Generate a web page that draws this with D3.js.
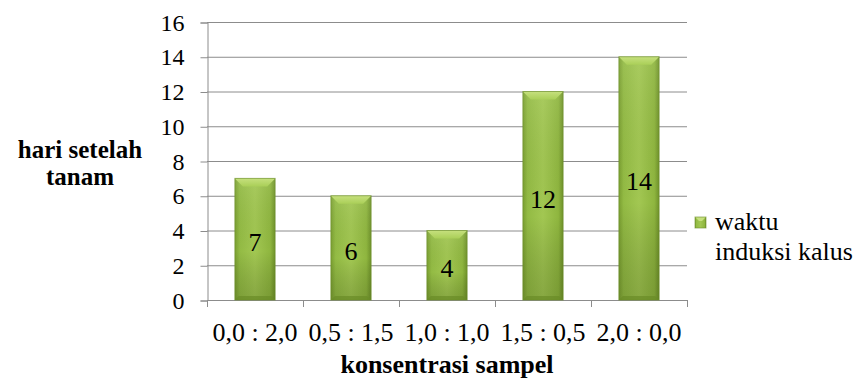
<!DOCTYPE html>
<html>
<head>
<meta charset="utf-8">
<script src="https://cdn.jsdelivr.net/npm/d3@7/dist/d3.min.js"></script>
<style>
  html, body { margin: 0; padding: 0; background: #fff; }
  svg { display: block; }
</style>
</head>
<body>
<svg id="chart" width="860" height="386"></svg>
<script>
// Callus induction time per concentration ratio
const categories = ["0,0 : 2,0", "0,5 : 1,5", "1,0 : 1,0", "1,5 : 0,5", "2,0 : 0,0"];
const values = [7, 6, 4, 12, 14];
const yTicks = [0, 2, 4, 6, 8, 10, 12, 14, 16];
const seriesName = ["waktu", "induksi kalus"];
const yTitle = ["hari setelah", "tanam"];
const xTitle = "konsentrasi sampel";

const FONT = "Liberation Serif";
const svg = d3.select("#chart");
const plot = { left: 207, right: 687, top: 22, bottom: 300 };

const y = d3.scaleLinear().domain([0, 16]).range([plot.bottom, plot.top]);
const x = d3.scaleBand().domain(categories).range([plot.left, plot.right])
  .paddingInner(0.58).paddingOuter(0.29);

const defs = svg.append("defs");
const body = defs.append("linearGradient").attr("id", "barBody")
  .attr("x1", 0).attr("y1", 0).attr("x2", 1).attr("y2", 0);
[[0, "#7a9f31"], [0.12, "#93bb44"], [0.5, "#a2c752"], [0.88, "#8fb63f"], [1, "#6f922a"]]
  .forEach(([o, c]) => body.append("stop").attr("offset", o).attr("stop-color", c));
const shade = defs.append("linearGradient").attr("id", "barShade")
  .attr("x1", 0).attr("y1", 0).attr("x2", 0).attr("y2", 1);
[[0, "#ffffff", 0.08], [0.6, "#000000", 0], [1, "#2d3d0c", 0.22]]
  .forEach(([o, c, a]) => shade.append("stop").attr("offset", o).attr("stop-color", c).attr("stop-opacity", a));
const topBevel = defs.append("linearGradient").attr("id", "topBevel")
  .attr("x1", 0).attr("y1", 0).attr("x2", 0).attr("y2", 1);
[[0, "#c6e07e"], [1, "#aacf58"]]
  .forEach(([o, c]) => topBevel.append("stop").attr("offset", o).attr("stop-color", c));

// grid lines
svg.append("g").selectAll("line").data(yTicks.filter(d => d > 0)).join("line")
  .attr("x1", plot.left).attr("x2", plot.right)
  .attr("y1", d => y(d) + 0.5).attr("y2", d => y(d) + 0.5)
  .attr("stroke", "#8c8c8c").attr("stroke-width", 1);

// y axis
const yAxis = svg.append("g").attr("transform", `translate(${plot.left + 0.5},0.5)`)
  .call(d3.axisLeft(y).tickValues(yTicks).tickSize(7).tickPadding(16));
yAxis.attr("font-family", FONT).attr("font-size", 24);
yAxis.select(".domain").attr("stroke", "#8c8c8c");
yAxis.selectAll(".tick line").attr("stroke", "#8c8c8c");
yAxis.selectAll(".tick text").attr("fill", "#000");

// x axis with ticks at category boundaries
const step = x.step();
const bounds = categories.map(c => x(c) - step * x.paddingInner() / 2).concat([plot.right]);
const xAxisG = svg.append("g").attr("font-family", FONT);
xAxisG.append("line").attr("x1", plot.left).attr("x2", plot.right)
  .attr("y1", plot.bottom + 0.5).attr("y2", plot.bottom + 0.5).attr("stroke", "#8c8c8c");
xAxisG.selectAll("line.tk").data(bounds).join("line").attr("class", "tk")
  .attr("x1", d => Math.round(d) + 0.5).attr("x2", d => Math.round(d) + 0.5)
  .attr("y1", plot.bottom).attr("y2", plot.bottom + 7).attr("stroke", "#8c8c8c");
xAxisG.selectAll("text").data(categories).join("text")
  .attr("x", d => x(d) + x.bandwidth() / 2).attr("y", 341)
  .attr("text-anchor", "middle").attr("font-size", 26).text(d => d);

// bars with bevel
const bars = svg.append("g").selectAll("g").data(values.map((v, i) => ({ c: categories[i], v })))
  .join("g");
const bev = 8;
bars.append("rect")
  .attr("x", d => x(d.c)).attr("y", d => y(d.v))
  .attr("width", x.bandwidth()).attr("height", d => y(0) - y(d.v))
  .attr("fill", "url(#barBody)");
bars.append("rect")
  .attr("x", d => x(d.c)).attr("y", d => y(d.v))
  .attr("width", x.bandwidth()).attr("height", d => y(0) - y(d.v))
  .attr("fill", "url(#barShade)");
bars.append("polygon")
  .attr("points", d => {
    const x0 = x(d.c), x1 = x0 + x.bandwidth(), t = y(d.v);
    return [[x0, t], [x1, t], [x1 - bev, t + bev], [x0 + bev, t + bev]].join(" ");
  })
  .attr("fill", "url(#topBevel)");
bars.append("polygon")
  .attr("points", d => {
    const x0 = x(d.c), x1 = x0 + x.bandwidth(), b = y(0);
    return [[x0, b], [x1, b], [x1 - 4, b - 4], [x0 + 4, b - 4]].join(" ");
  })
  .attr("fill", "#6a8c27").attr("opacity", 0.7);
bars.append("rect")
  .attr("x", d => x(d.c)).attr("y", d => y(d.v))
  .attr("width", x.bandwidth()).attr("height", d => y(0) - y(d.v))
  .attr("fill", "none").attr("stroke", "#6b8d2a").attr("stroke-opacity", 0.6).attr("stroke-width", 1);

// value labels
bars.append("text")
  .attr("x", d => x(d.c) + x.bandwidth() / 2)
  .attr("y", d => (y(d.v) + y(0)) / 2 + 12)
  .attr("text-anchor", "middle").attr("font-family", FONT).attr("font-size", 26).attr("fill", "#000")
  .text(d => d.v);

// axis titles
svg.append("text")
  .attr("text-anchor", "middle").attr("font-family", FONT).attr("font-size", 25).attr("font-weight", "bold")
  .selectAll("tspan").data(yTitle).join("tspan")
  .attr("x", 80).attr("y", (d, i) => 158 + i * 27).text(d => d);
svg.append("text").attr("x", 447).attr("y", 373)
  .attr("text-anchor", "middle").attr("font-family", FONT).attr("font-size", 26).attr("font-weight", "bold")
  .text(xTitle);

// legend
const lg = svg.append("g").attr("transform", "translate(695,217)");
lg.append("rect").attr("width", 11).attr("height", 11).attr("fill", "url(#barBody)");
lg.append("polygon").attr("points", "0,0 11,0 7,4 4,4").attr("fill", "#c6e07e");
lg.append("rect").attr("width", 11).attr("height", 11).attr("fill", "none")
  .attr("stroke", "#6b8d2a").attr("stroke-opacity", 0.6);
lg.append("text").attr("font-family", FONT).attr("font-size", 26)
  .selectAll("tspan").data(seriesName).join("tspan")
  .attr("x", 20).attr("y", (d, i) => 13 + i * 30).text(d => d);
</script>
</body>
</html>
